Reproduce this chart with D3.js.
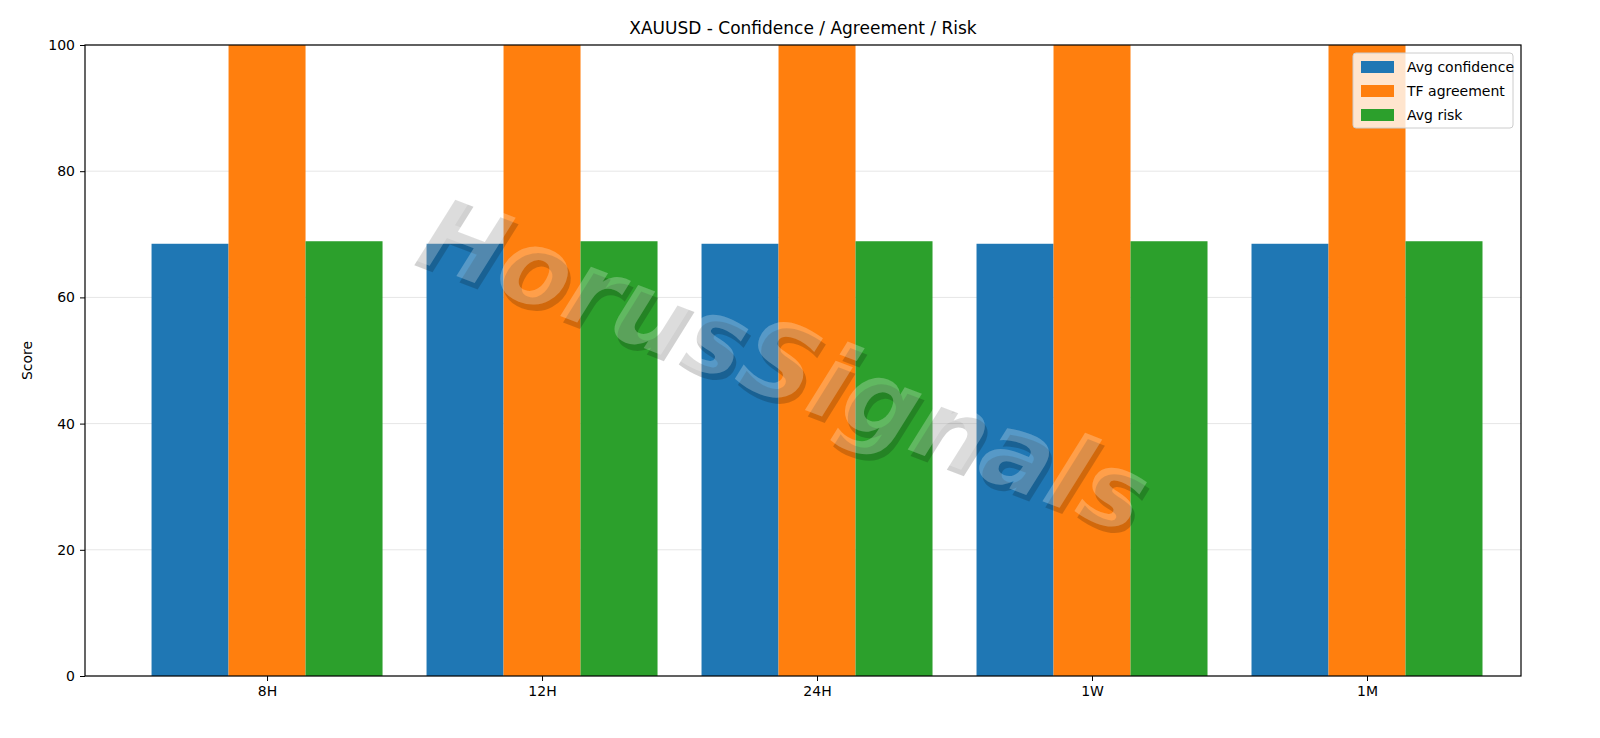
<!DOCTYPE html>
<html>
<head>
<meta charset="utf-8">
<script src="https://cdn.jsdelivr.net/npm/d3@7"></script>
<style>
  body { margin: 0; background: #fff; }
  text { font-family: "DejaVu Sans", sans-serif; }
</style>
</head>
<body>
<div class="canvas"></div>
<script>
const categories = ['8H', '12H', '24H', '1W', '1M'];
const avgConfidence = [68.5, 68.5, 68.5, 68.5, 68.5];
const tfAgreement = [100, 100, 100, 100, 100];
const avgRisk = [68.9, 68.9, 68.9, 68.9, 68.9];
const yTicks = [0, 20, 40, 60, 80, 100];

const series = [
  { name: 'Avg confidence', values: avgConfidence, color: '#1f77b4', offset: -1 },
  { name: 'TF agreement', values: tfAgreement, color: '#ff7f0e', offset: 0 },
  { name: 'Avg risk', values: avgRisk, color: '#2ca02c', offset: 1 },
];

const W = 1600, H = 738;
const plotL = 85, plotR = 1521, plotT = 45, plotB = 676;
const barW = 0.28;

const svg = d3.select('.canvas')
  .append('svg')
  .attr('width', W)
  .attr('height', H);

const x = d3.scaleLinear().domain([-0.662, 4.56]).range([plotL, plotR]);
const y = d3.scaleLinear().domain([0, 100]).range([plotB, plotT]);

// grid
svg.append('g')
  .selectAll('line')
  .data(yTicks)
  .join('line')
  .attr('x1', plotL).attr('x2', plotR)
  .attr('y1', d => y(d)).attr('y2', d => y(d))
  .attr('stroke', '#e6e6e6').attr('stroke-width', 1);

// bars
series.forEach(s => {
  svg.append('g')
    .selectAll('rect')
    .data(s.values)
    .join('rect')
    .attr('x', (d, i) => x(i + s.offset * barW - barW / 2))
    .attr('width', x(barW) - x(0))
    .attr('y', d => y(d))
    .attr('height', d => y(0) - y(d))
    .attr('fill', s.color);
});

// watermark
const wm = svg.append('g')
  .attr('transform', 'translate(780,370) rotate(21)')
  .style('font-family', '"Liberation Sans", Arial, sans-serif')
  .style('font-weight', 'bold')
  .style('font-style', 'italic')
  .style('font-size', '104px')
  .attr('text-anchor', 'middle')
  .attr('dominant-baseline', 'middle');
wm.append('text')
  .attr('x', 5).attr('y', 5)
  .attr('fill', '#000').attr('fill-opacity', 0.18)
  .text('HorusSignals');
wm.append('text')
  .attr('fill', '#fff').attr('fill-opacity', 0.25)
  .text('HorusSignals');

// axes
svg.append('g')
  .attr('transform', `translate(0,${plotB})`)
  .call(d3.axisBottom(x).tickValues(d3.range(categories.length)).tickFormat(i => categories[i]).tickSize(5).tickPadding(5))
  .call(g => g.select('.domain').remove())
  .call(g => g.selectAll('text').attr('font-size', 14).attr('fill', '#000'));

svg.append('g')
  .attr('transform', `translate(${plotL},0)`)
  .call(d3.axisLeft(y).tickValues(yTicks).tickSize(5).tickPadding(5))
  .call(g => g.select('.domain').remove())
  .call(g => g.selectAll('text').attr('font-size', 14).attr('fill', '#000'));

svg.append('rect')
  .attr('x', plotL).attr('y', plotT)
  .attr('width', plotR - plotL).attr('height', plotB - plotT)
  .attr('fill', 'none').attr('stroke', '#000').attr('stroke-width', 1.2);

svg.append('text')
  .attr('x', (plotL + plotR) / 2).attr('y', 34)
  .attr('text-anchor', 'middle').attr('font-size', 17)
  .text('XAUUSD - Confidence / Agreement / Risk');

svg.append('text')
  .attr('transform', `translate(32,${(plotT + plotB) / 2}) rotate(-90)`)
  .attr('text-anchor', 'middle').attr('font-size', 14)
  .text('Score');

// legend
const lg = svg.append('g').attr('transform', 'translate(1353,53)');
lg.append('rect')
  .attr('width', 160).attr('height', 75).attr('rx', 3)
  .attr('fill', '#fff').attr('fill-opacity', 0.8)
  .attr('stroke', '#ccc');
series.forEach((s, i) => {
  lg.append('rect')
    .attr('x', 8).attr('y', 8 + i * 24)
    .attr('width', 33).attr('height', 12)
    .attr('fill', s.color);
  lg.append('text')
    .attr('x', 54).attr('y', 19 + i * 24)
    .attr('font-size', 14)
    .text(s.name);
});
</script>
</body>
</html>
